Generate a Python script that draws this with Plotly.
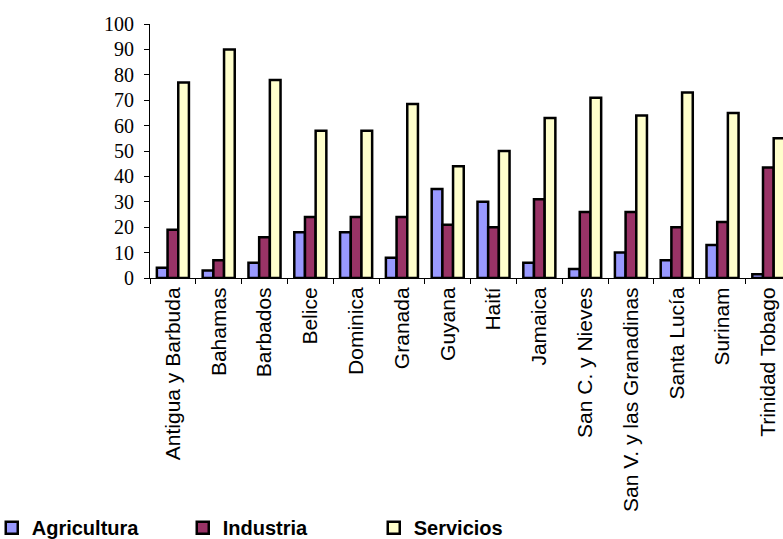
import plotly.graph_objects as go

# Sector shares of GDP (%) by country
paises = [
    "Antigua y Barbuda", "Bahamas", "Barbados", "Belice", "Dominica", "Granada",
    "Guyana", "Haití", "Jamaica", "San C. y Nieves", "San V. y las Granadinas",
    "Santa Lucía", "Surinam", "Trinidad Tobago",
]
agricultura = [4, 3, 6, 18, 18, 8, 35, 30, 6, 3.5, 10, 7, 13, 1.5]
industria = [19, 7, 16, 24, 24, 24, 21, 20, 31, 26, 26, 20, 22, 43.5]
servicios = [77, 90, 78, 58, 58, 68.5, 44, 50, 63, 71, 64, 73, 65, 55]
y_ticks = list(range(0, 101, 10))

series = [
    ("Agricultura", agricultura, "#9999FF"),
    ("Industria", industria, "#993366"),
    ("Servicios", servicios, "#FFFFCC"),
]

fig = go.Figure()
for nombre, valores, color in series:
    fig.add_trace(go.Bar(
        x=paises, y=valores, name=nombre,
        marker=dict(color=color, line=dict(color="black", width=2.5)),
    ))

fig.update_layout(
    width=783, height=539,
    margin=dict(l=150, r=0, t=24, b=261, autoexpand=False),
    paper_bgcolor="white", plot_bgcolor="white",
    barmode="group", bargap=0.3, bargroupgap=0,
    showlegend=True,
    legend=dict(
        orientation="h", x=-0.25, xanchor="left", y=-0.983, yanchor="middle",
        font=dict(family="Liberation Sans, Arial", size=20, color="black",
                  weight="bold"),
        entrywidth=146, itemwidth=30, traceorder="normal",
    ),
    font=dict(family="Liberation Sans, Arial", color="black"),
)

fig.update_xaxes(
    type="category", range=[-0.5, 13.32], automargin=False,
    showline=True, linecolor="black", linewidth=1,
    ticks="outside", ticklen=5, tickcolor="black", tickson="boundaries",
    tickangle=-90, showgrid=False,
    tickfont=dict(family="Liberation Sans, Arial", size=21, color="black"),
)
fig.update_yaxes(
    range=[0, 100], tickvals=y_ticks, automargin=False,
    showline=True, linecolor="black", linewidth=1,
    ticks="outside", ticklen=5, tickcolor="black",
    showgrid=False, zeroline=False, ticklabelstandoff=6,
    tickfont=dict(family="Liberation Serif, Times New Roman", size=20, color="black"),
)

fig.write_html("out.html")
